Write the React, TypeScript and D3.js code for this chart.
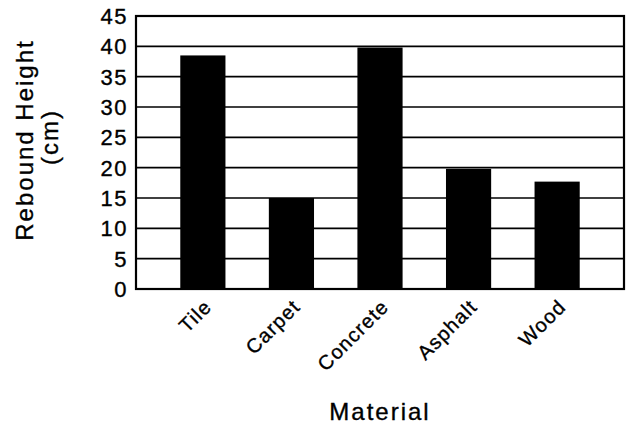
import React from "react";
import * as d3 from "d3";

const categories = ["Tile", "Carpet", "Concrete", "Asphalt", "Wood"];
const values = [38.5, 15, 39.8, 19.8, 17.7];
const yTicks = [0, 5, 10, 15, 20, 25, 30, 35, 40, 45];
const yTitle = ["Rebound Height", "(cm)"];
const xTitle = "Material";

const W = 629;
const H = 437;
const left = 136;
const right = 624;
const top = 16;
const bottom = 289;
const FONT = "'Liberation Sans', Arial, Helvetica, sans-serif";

export default function App() {
  const x = d3
    .scaleBand<string>()
    .domain(categories)
    .range([left, right])
    .paddingInner(0.49)
    .paddingOuter(0.5);
  const y = d3.scaleLinear().domain([0, 45]).range([bottom, top]);

  const textProps = {
    fontFamily: FONT,
    fill: "#000",
    stroke: "#000",
    strokeWidth: 0.35,
  };

  return (
    <svg
      width={W}
      height={H}
      style={{ position: "absolute", left: 0, top: 0, background: "#fff" }}
    >
      <rect x={0} y={0} width={W} height={H} fill="#fff" />
      {yTicks.map((t) => (
        <line
          key={"g" + t}
          x1={left}
          x2={right}
          y1={y(t)}
          y2={y(t)}
          stroke="#000"
          strokeWidth={1.6}
        />
      ))}
      {categories.map((c, i) => (
        <rect
          key={c}
          x={x(c)}
          y={y(values[i])}
          width={x.bandwidth()}
          height={y(0) - y(values[i])}
          fill="#000"
        />
      ))}
      <rect
        x={left}
        y={top}
        width={right - left}
        height={bottom - top}
        fill="none"
        stroke="#000"
        strokeWidth={2.2}
      />
      {yTicks.map((t) => (
        <text
          key={"t" + t}
          x={left - 8}
          y={y(t)}
          dy="0.36em"
          textAnchor="end"
          fontSize={22}
          letterSpacing={1.5}
          {...textProps}
        >
          {t}
        </text>
      ))}
      {categories.map((c) => {
        const cx = (x(c) as number) + x.bandwidth() / 2 + 10;
        const cy = bottom + 19;
        return (
          <text
            key={"l" + c}
            transform={`translate(${cx},${cy}) rotate(-45)`}
            textAnchor="end"
            fontSize={20}
            letterSpacing={1.2}
            {...textProps}
          >
            {c}
          </text>
        );
      })}
      <text
        transform={`translate(33,140) rotate(-90)`}
        textAnchor="middle"
        fontSize={24}
        letterSpacing={2}
        {...textProps}
      >
        {yTitle[0]}
      </text>
      <text
        transform={`translate(58,137) rotate(-90)`}
        textAnchor="middle"
        fontSize={24}
        letterSpacing={2}
        {...textProps}
      >
        {yTitle[1]}
      </text>
      <text
        x={380}
        y={420}
        textAnchor="middle"
        fontSize={24}
        letterSpacing={2}
        {...textProps}
      >
        {xTitle}
      </text>
    </svg>
  );
}
